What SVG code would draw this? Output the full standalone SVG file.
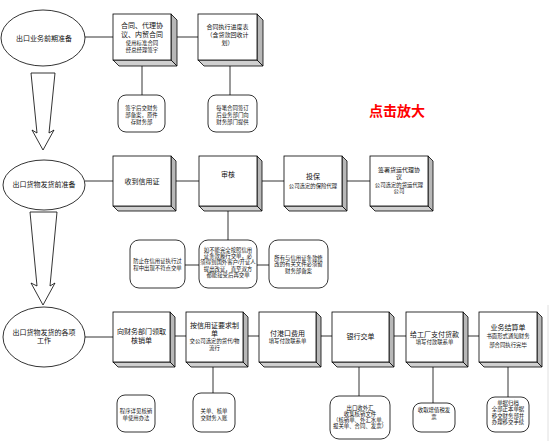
<svg xmlns="http://www.w3.org/2000/svg" width="551" height="441" viewBox="0 0 551 441">
<style>
text{font-family:"Liberation Sans","Noto Sans CJK SC",sans-serif;fill:#111;text-anchor:middle}
.t7{font-size:7px}
.t6{font-size:6px}
.t5{font-size:5.4px}
.front{fill:#fff;stroke:#000;stroke-width:0.8}
.side{fill:#b8b8b8;stroke:#000;stroke-width:0.8;stroke-linejoin:round}
.bot{fill:#d0d0d0;stroke:#000;stroke-width:0.8;stroke-linejoin:round}
.rr{fill:#fff;stroke:#000;stroke-width:0.8}
.el{fill:#fff;stroke:#000;stroke-width:0.8}
.ln{stroke:#000;stroke-width:0.8;fill:none}
.arr{fill:#fff;stroke:#000;stroke-width:0.8;stroke-linejoin:miter}
</style>
<rect width="551" height="441" fill="#fff"/>
<line x1="548" y1="305" x2="548" y2="441" stroke="#e0e0e0" stroke-width="1"/>

<g id="connectors">
  <line class="ln" x1="85" y1="37" x2="113" y2="37"/>
  <line class="ln" x1="171" y1="37" x2="198" y2="37"/>
  <line class="ln" x1="142" y1="60" x2="142" y2="95"/>
  <line class="ln" x1="230" y1="60" x2="230" y2="95"/>
  <line class="ln" x1="85" y1="181" x2="113" y2="181"/>
  <line class="ln" x1="171" y1="181" x2="199" y2="181"/>
  <line class="ln" x1="257" y1="181" x2="284" y2="181"/>
  <line class="ln" x1="342" y1="181" x2="370" y2="181"/>
  <line class="ln" x1="228" y1="206" x2="228" y2="240"/>
  <line class="ln" x1="185" y1="265" x2="199" y2="265"/>
  <line class="ln" x1="257" y1="265" x2="269" y2="265"/>
  <line class="ln" x1="85" y1="337" x2="113" y2="337"/>
  <line class="ln" x1="170" y1="336" x2="186" y2="336"/>
  <line class="ln" x1="243" y1="336" x2="259" y2="336"/>
  <line class="ln" x1="316" y1="336" x2="332" y2="336"/>
  <line class="ln" x1="389" y1="336" x2="406" y2="336"/>
  <line class="ln" x1="463" y1="336" x2="479" y2="336"/>
  <line class="ln" x1="213" y1="362" x2="213" y2="393"/>
  <line class="ln" x1="359" y1="362" x2="359" y2="396"/>
  <line class="ln" x1="433" y1="362" x2="433" y2="403"/>
  <line class="ln" x1="508" y1="362" x2="508" y2="397"/>
  <polygon class="arr" points="31,73 55,73 49,133 54,130 43,150 32,130 37,133"/>
  <polygon class="arr" points="30,212 57,212 50,286 55,283 43,305 31,283 37,286"/>
</g>

<!-- Row 1 -->
<g id="e1">
  <ellipse class="el" cx="43" cy="38" rx="42" ry="28"/>
  <text class="t7" x="44" y="40.5">出口业务前期准备</text>
</g>
<g id="b1" transform="translate(113,14)">
  <polygon class="side" points="58,0 64,6 64,52 58,46"/>
  <polygon class="bot" points="0,46 58,46 64,52 6,52"/>
  <rect class="front" width="58" height="46"/>
  <text class="t7" x="29" y="14">合同、代理协</text>
  <text class="t7" x="29" y="23">议、内贸合同</text>
  <text class="t5" x="29" y="31">使用标准合同</text>
  <text class="t5" x="29" y="37.5">经总经理签字</text>
</g>
<g id="b2" transform="translate(198,14)">
  <polygon class="side" points="59,0 65,6 65,52 59,46"/>
  <polygon class="bot" points="0,46 59,46 65,52 6,52"/>
  <rect class="front" width="59" height="46"/>
  <text class="t6" x="29.5" y="14.5">合同执行进度表</text>
  <text class="t6" x="29.5" y="23">（含货款回收计</text>
  <text class="t6" x="29.5" y="31">划）</text>
</g>
<g id="r1">
  <rect class="rr" x="118" y="95" width="47" height="37" rx="8"/>
  <text class="t5" x="141.5" y="110">签字后交财务</text>
  <text class="t5" x="141.5" y="117">部备案，原件</text>
  <text class="t5" x="141.5" y="124">存财务部</text>
</g>
<g id="r2">
  <rect class="rr" x="208" y="95" width="49" height="37" rx="8"/>
  <text class="t5" x="232.5" y="110">每笔合同签订</text>
  <text class="t5" x="232.5" y="117">后业务部门向</text>
  <text class="t5" x="232.5" y="124">财务部门提供</text>
</g>
<g id="zoomlabel">
  <text x="397" y="116" style="font-size:14px;font-weight:bold;fill:#ff0000">点击放大</text>
</g>

<!-- Row 2 -->
<g id="e2">
  <ellipse class="el" cx="44" cy="185" rx="41" ry="25"/>
  <text class="t7" x="44" y="186.5">出口货物发货前准备</text>
</g>
<g id="b3" transform="translate(113,156)">
  <polygon class="side" points="58,0 63,5 63,55 58,50"/>
  <polygon class="bot" points="0,50 58,50 63,55 5,55"/>
  <rect class="front" width="58" height="50"/>
  <text class="t7" x="29" y="28">收到信用证</text>
</g>
<g id="b4" transform="translate(199,156)">
  <polygon class="side" points="58,0 63,5 63,55 58,50"/>
  <polygon class="bot" points="0,50 58,50 63,55 5,55"/>
  <rect class="front" width="58" height="50"/>
  <text class="t7" x="29" y="21">审核</text>
</g>
<g id="b5" transform="translate(284,156)">
  <polygon class="side" points="58,0 63,5 63,55 58,50"/>
  <polygon class="bot" points="0,50 58,50 63,55 5,55"/>
  <rect class="front" width="58" height="50"/>
  <text class="t7" x="29" y="23">投保</text>
  <text class="t5" x="29" y="31.5">公司选定的保险代理</text>
</g>
<g id="b6" transform="translate(370,156)">
  <polygon class="side" points="58,0 63,5 63,55 58,50"/>
  <polygon class="bot" points="0,50 58,50 63,55 5,55"/>
  <rect class="front" width="58" height="50"/>
  <text class="t6" x="29" y="15.5">签署货运代理协</text>
  <text class="t6" x="29" y="22.5">议</text>
  <text class="t5" x="29" y="30.5">公司选定的货运代理</text>
  <text class="t5" x="29" y="37">公司</text>
</g>
<g id="r3">
  <rect class="rr" x="130" y="240" width="55" height="48" rx="9"/>
  <text class="t5" x="157.5" y="263">防止在信用证执行过</text>
  <text class="t5" x="157.5" y="269.5">程中出现不符点交单</text>
</g>
<g id="r4">
  <rect class="rr" x="199" y="240" width="58" height="48" rx="9"/>
  <text class="t5" x="228" y="252">如不能完全按照信用</text>
  <text class="t5" x="228" y="258.2">证条款履行交单，必</text>
  <text class="t5" x="228" y="264.4">须得到国外客户/开证人</text>
  <text class="t5" x="228" y="270.6">提出改证，直至双方</text>
  <text class="t5" x="228" y="276.8">都能接受后再交单</text>
</g>
<g id="r5">
  <rect class="rr" x="269" y="240" width="59" height="48" rx="9"/>
  <text class="t5" x="298.5" y="259.5">所有与信用证条款修</text>
  <text class="t5" x="298.5" y="266">改的有关文件必须留</text>
  <text class="t5" x="298.5" y="273">财务部备案</text>
</g>

<!-- Row 3 -->
<g id="e3">
  <ellipse class="el" cx="44" cy="337" rx="41" ry="30"/>
  <text class="t7" x="44" y="334.5">出口货物发货的各项</text>
  <text class="t7" x="44" y="343">工作</text>
</g>
<g id="b7" transform="translate(113,312)">
  <polygon class="side" points="57,0 62,5 62,55 57,50"/>
  <polygon class="bot" points="0,50 57,50 62,55 5,55"/>
  <rect class="front" width="57" height="50"/>
  <text class="t7" x="28.5" y="22">向财务部门领取</text>
  <text class="t7" x="28.5" y="30.5">核销单</text>
</g>
<g id="b8" transform="translate(186,312)">
  <polygon class="side" points="57,0 62,5 62,55 57,50"/>
  <polygon class="bot" points="0,50 57,50 62,55 5,55"/>
  <rect class="front" width="57" height="50"/>
  <text class="t7" x="28.5" y="16">按信用证要求制</text>
  <text class="t7" x="28.5" y="24">单</text>
  <text class="t5" x="28.5" y="31">交公司选定的货代/物</text>
  <text class="t5" x="28.5" y="37.5">流行</text>
</g>
<g id="b9" transform="translate(259,312)">
  <polygon class="side" points="57,0 62,5 62,55 57,50"/>
  <polygon class="bot" points="0,50 57,50 62,55 5,55"/>
  <rect class="front" width="57" height="50"/>
  <text class="t7" x="28.5" y="24">付港口费用</text>
  <text class="t5" x="28.5" y="31">填写付款联系单</text>
</g>
<g id="b10" transform="translate(332,312)">
  <polygon class="side" points="57,0 62,5 62,55 57,50"/>
  <polygon class="bot" points="0,50 57,50 62,55 5,55"/>
  <rect class="front" width="57" height="50"/>
  <text class="t7" x="28.5" y="27">银行交单</text>
</g>
<g id="b11" transform="translate(406,312)">
  <polygon class="side" points="57,0 62,5 62,55 57,50"/>
  <polygon class="bot" points="0,50 57,50 62,55 5,55"/>
  <rect class="front" width="57" height="50"/>
  <text class="t7" x="28.5" y="25">给工厂支付货款</text>
  <text class="t5" x="28.5" y="31.5">填写付款联系单</text>
</g>
<g id="b12" transform="translate(479,312)">
  <polygon class="side" points="58,0 63,5 63,55 58,50"/>
  <polygon class="bot" points="0,50 58,50 63,55 5,55"/>
  <rect class="front" width="58" height="50"/>
  <text class="t7" x="29" y="18">业务结算单</text>
  <text class="t5" x="29" y="26">书面形式通知财务</text>
  <text class="t5" x="29" y="34.5">部合同执行完毕</text>
</g>
<g id="r6">
  <rect class="rr" x="117" y="395" width="38" height="37" rx="8"/>
  <text class="t5" x="136" y="413">程序详见核销</text>
  <text class="t5" x="136" y="420">单使用办法</text>
</g>
<g id="r7">
  <rect class="rr" x="193" y="393" width="42" height="39" rx="8"/>
  <text class="t5" x="214" y="413">关单、核单</text>
  <text class="t5" x="214" y="420">交财务入账</text>
</g>
<g id="r8">
  <rect class="rr" x="330" y="396" width="60" height="43" rx="9"/>
  <text class="t5" x="360" y="409.5">出口收外汇</text>
  <text class="t5" x="360" y="415.8">收集核销文件</text>
  <text class="t5" x="360" y="422.1">（核销单、外汇水单、</text>
  <text class="t5" x="360" y="428.4">报关单、合同、发票）</text>
</g>
<g id="r9">
  <rect class="rr" x="413" y="403" width="42" height="29" rx="8"/>
  <text class="t5" x="434" y="412">收取增值税发</text>
  <text class="t5" x="434" y="418.5">票</text>
</g>
<g id="r10">
  <rect class="rr" x="487" y="397" width="42" height="35" rx="8"/>
  <text class="t5" x="508" y="405">单据归档</text>
  <text class="t5" x="508" y="411.3">全部正本单据</text>
  <text class="t5" x="508" y="417.6">移交财务部并</text>
  <text class="t5" x="508" y="423.9">办理移交手续</text>
</g>
</svg>
